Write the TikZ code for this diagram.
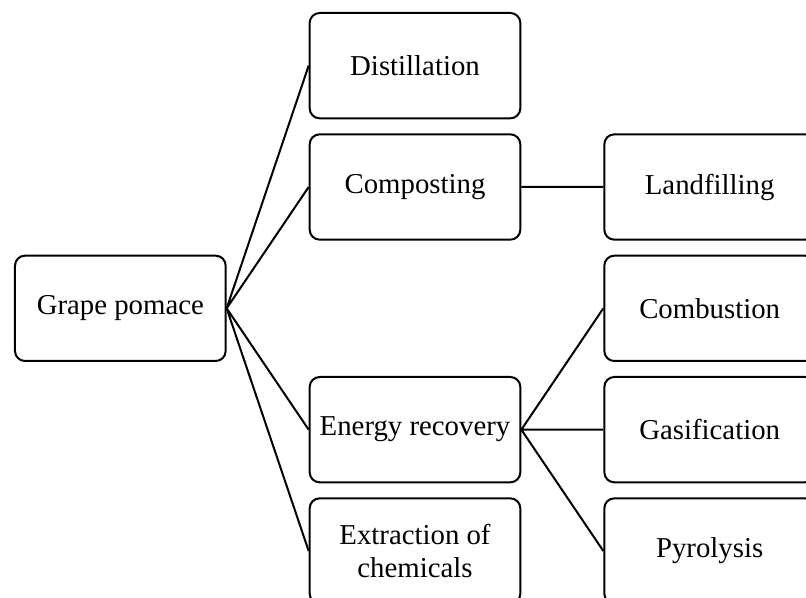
\documentclass[tikz,border=0pt]{standalone}
\usepackage{fontspec}
\setmainfont{Liberation Serif}
\usetikzlibrary{positioning}
\tikzset{
  node distance=10.5pt and 61.5pt,
  every path/.style={line width=1.5pt},
  box/.style={draw, rounded corners=7.5pt, minimum width=158pt, minimum height=79pt,
    align=center, font=\fontsize{21.6}{25}\selectfont},
}

\begin{document}
\begin{tikzpicture}
		% nodes
		\node[box] (pomace) {Grape pomace};
		\node[box, above right=of pomace] (compost) {Composting};
		\node[box, above=of compost] (distill) {Distillation};
		\node[box, below right=of pomace] (energy) {Energy recovery};
		\node[box, below=of energy] (extract) {Extraction of\\chemicals};
		\node[box, right=of compost] (landfill) {Landfilling};
		\node[box, right=of energy] (gasif) {Gasification};
		\node[box, above=of gasif] (combust) {Combustion};
		\node[box, below=of gasif] (pyro) {Pyrolysis};

		% connections
		\draw (pomace.east) -- (distill.west)
		(pomace.east) -- (compost.west)
		(pomace.east) -- (energy.west)
		(pomace.east) -- (extract.west)
		(compost.east) -- (landfill.west)
		(energy.east) -- (combust.west)
		(energy.east) -- (gasif.west)
		(energy.east) -- (pyro.west);

		% frame
		\pgfresetboundingbox
		\path (pomace.west |- distill.north) ++(-10.5pt,9pt) coordinate (tl);
		\useasboundingbox (tl) rectangle ++(604.5pt,-448.5pt);
	\end{tikzpicture}
\end{document}
